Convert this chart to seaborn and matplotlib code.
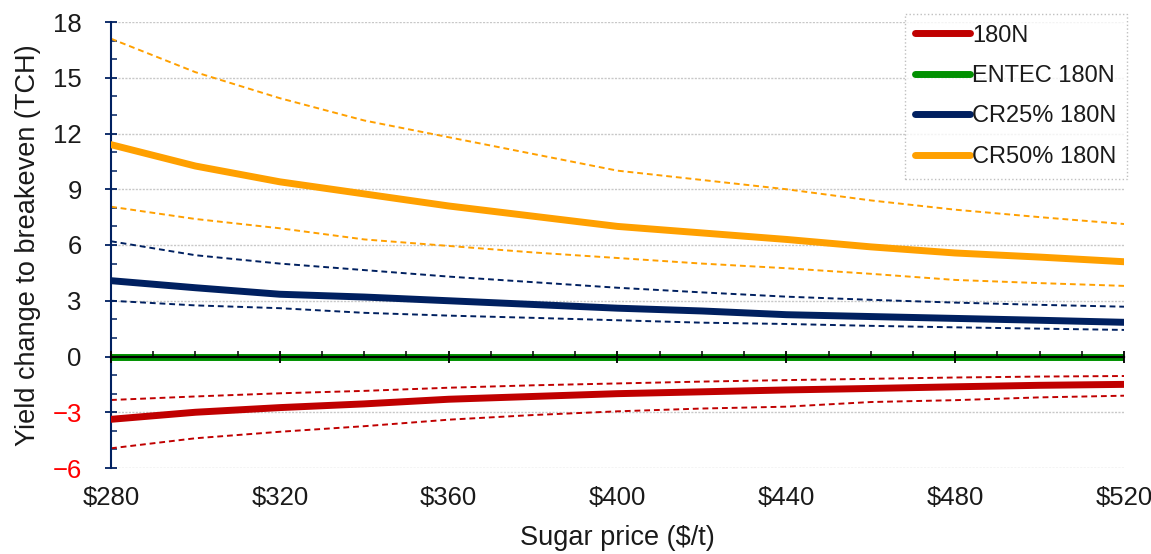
import numpy as np
import pandas as pd
import matplotlib
matplotlib.use("Agg")
import matplotlib.pyplot as plt
from matplotlib.ticker import MultipleLocator, FixedLocator
import seaborn as sns

# Sugar price ($/t)
price = [280, 300, 320, 340, 360, 380, 400, 420, 440, 460, 480, 500, 520]

# Yield change to breakeven (TCH): central estimate with lower / upper bounds
n180_mid = [-3.38, -3.0, -2.75, -2.55, -2.3, -2.15, -2.0, -1.9, -1.8, -1.72, -1.63, -1.55, -1.5]
n180_hi = [-2.34, -2.15, -1.98, -1.85, -1.68, -1.55, -1.45, -1.35, -1.27, -1.2, -1.13, -1.08, -1.05]
n180_lo = [-4.94, -4.4, -4.05, -3.75, -3.4, -3.15, -2.95, -2.8, -2.7, -2.45, -2.35, -2.2, -2.11]

entec_mid = [0, 0, 0, 0, 0, 0, 0, 0, 0, 0, 0, 0, 0]

cr25_mid = [4.08, 3.7, 3.35, 3.2, 3.0, 2.8, 2.6, 2.45, 2.25, 2.15, 2.05, 1.95, 1.84]
cr25_hi = [6.2, 5.45, 5.0, 4.65, 4.3, 4.0, 3.7, 3.45, 3.22, 3.05, 2.9, 2.78, 2.68]
cr25_lo = [3.0, 2.75, 2.6, 2.35, 2.2, 2.08, 1.95, 1.82, 1.75, 1.65, 1.57, 1.5, 1.43]

cr50_mid = [11.4, 10.25, 9.4, 8.75, 8.1, 7.55, 7.0, 6.65, 6.3, 5.9, 5.57, 5.35, 5.1]
cr50_hi = [17.1, 15.3, 13.9, 12.7, 11.8, 10.9, 10.0, 9.5, 9.0, 8.4, 7.9, 7.5, 7.13]
cr50_lo = [8.06, 7.4, 6.9, 6.3, 5.95, 5.6, 5.3, 5.0, 4.75, 4.45, 4.12, 3.95, 3.8]

series = ["180N", "ENTEC 180N", "CR25% 180N", "CR50% 180N"]
colors = ["#c00000", "#009000", "#002060", "#ffa000"]

x_ticks = [280, 320, 360, 400, 440, 480, 520]
x_tick_labels = ["$280", "$320", "$360", "$400", "$440", "$480", "$520"]
y_ticks = [-6, -3, 0, 3, 6, 9, 12, 15, 18]

mid = pd.DataFrame({
    "price": price * 4,
    "value": n180_mid + entec_mid + cr25_mid + cr50_mid,
    "series": [s for s in series for _ in price],
})
bounds = pd.DataFrame({
    "price": price * 6,
    "value": n180_hi + n180_lo + cr25_hi + cr25_lo + cr50_hi + cr50_lo,
    "band": [b for b in ["n_hi", "n_lo", "c25_hi", "c25_lo", "c50_hi", "c50_lo"] for _ in price],
})
band_colors = {"n_hi": colors[0], "n_lo": colors[0], "c25_hi": colors[2],
               "c25_lo": colors[2], "c50_hi": colors[3], "c50_lo": colors[3]}

sns.set_theme(style="white")
plt.rcParams["font.family"] = ["Liberation Sans", "DejaVu Sans"]

fig = plt.figure(figsize=(11.51, 5.54), dpi=100)
ax = fig.add_axes([111 / 1151, 1 - 468 / 554, (1124 - 111) / 1151, (468 - 22) / 554])

# grid lines every 3 TCH
for yv in y_ticks:
    if yv != 0:
        ax.axhline(yv, color="#c8c8c8", lw=1.0, ls=(0, (1.5, 1)), zorder=0.5)

# dashed bounds
sns.lineplot(data=bounds, x="price", y="value", hue="band", palette=band_colors,
             lw=1.4, dashes=False, legend=False, ax=ax, zorder=2)
for line in ax.get_lines()[-6:]:
    line.set_linestyle((0, (3, 2)))

# central estimates
sns.lineplot(data=mid, x="price", y="value", hue="series", hue_order=series,
             palette=colors, lw=5, legend=False, ax=ax, zorder=3)

ax.set_xlim(280, 520)
ax.set_ylim(-6, 18)

for s in ["top", "right", "bottom"]:
    ax.spines[s].set_visible(False)
ax.spines["left"].set_color("#002060")
ax.spines["left"].set_linewidth(1.5)

ax.yaxis.set_major_locator(FixedLocator(y_ticks))
ax.yaxis.set_minor_locator(MultipleLocator(1))
ax.tick_params(axis="y", which="major", direction="inout", length=8, width=1.3,
               color="#002060", labelsize=18.5, pad=17, left=True)
ax.tick_params(axis="y", which="minor", direction="in", length=4, width=1.1,
               color="#002060", left=True)
for lbl in ax.get_yticklabels():
    if float(lbl.get_text().replace("\u2212", "-")) < 0:
        lbl.set_color("#ff0000")
    else:
        lbl.set_color("#1a1a1a")

ax.set_xticks(x_ticks)
ax.set_xticklabels(x_tick_labels)
ax.tick_params(axis="x", which="both", length=0, labelsize=18.5, pad=13,
               labelcolor="#1a1a1a")

# horizontal axis line with ticks at zero
sec = ax.secondary_xaxis(0.25)
sec.set_zorder(4)
sec.spines["bottom"].set_color("black")
sec.spines["bottom"].set_linewidth(1.6)
sec.xaxis.set_major_locator(FixedLocator(x_ticks))
sec.xaxis.set_minor_locator(MultipleLocator(10))
sec.tick_params(axis="x", which="major", direction="inout", length=8, width=1.3,
                color="black", labelbottom=False)
sec.tick_params(axis="x", which="minor", direction="in", length=4, width=1.1,
                color="black", labelbottom=False)

ax.set_xlabel("Sugar price ($/t)", fontsize=19.5, color="#1a1a1a", labelpad=11)
ax.set_ylabel("Yield change to breakeven (TCH)", fontsize=19.5, color="#1a1a1a", labelpad=8)

handles = [plt.Line2D([], [], color=c, lw=5, solid_capstyle="round") for c in colors]
leg = fig.legend(handles, series, loc="upper right", bbox_to_anchor=(1127 / 1151, 1 - 14 / 554),
                 fontsize=17, frameon=True, fancybox=False, handlelength=2.3,
                 handletextpad=0.1, labelspacing=0.78, borderpad=0.45, borderaxespad=0)
leg.get_frame().set_edgecolor("#b0b0b0")
leg.get_frame().set_linestyle(":")
leg.get_frame().set_linewidth(1.0)
for t in leg.get_texts():
    t.set_color("#1a1a1a")

fig.savefig("out.png", dpi=100)
